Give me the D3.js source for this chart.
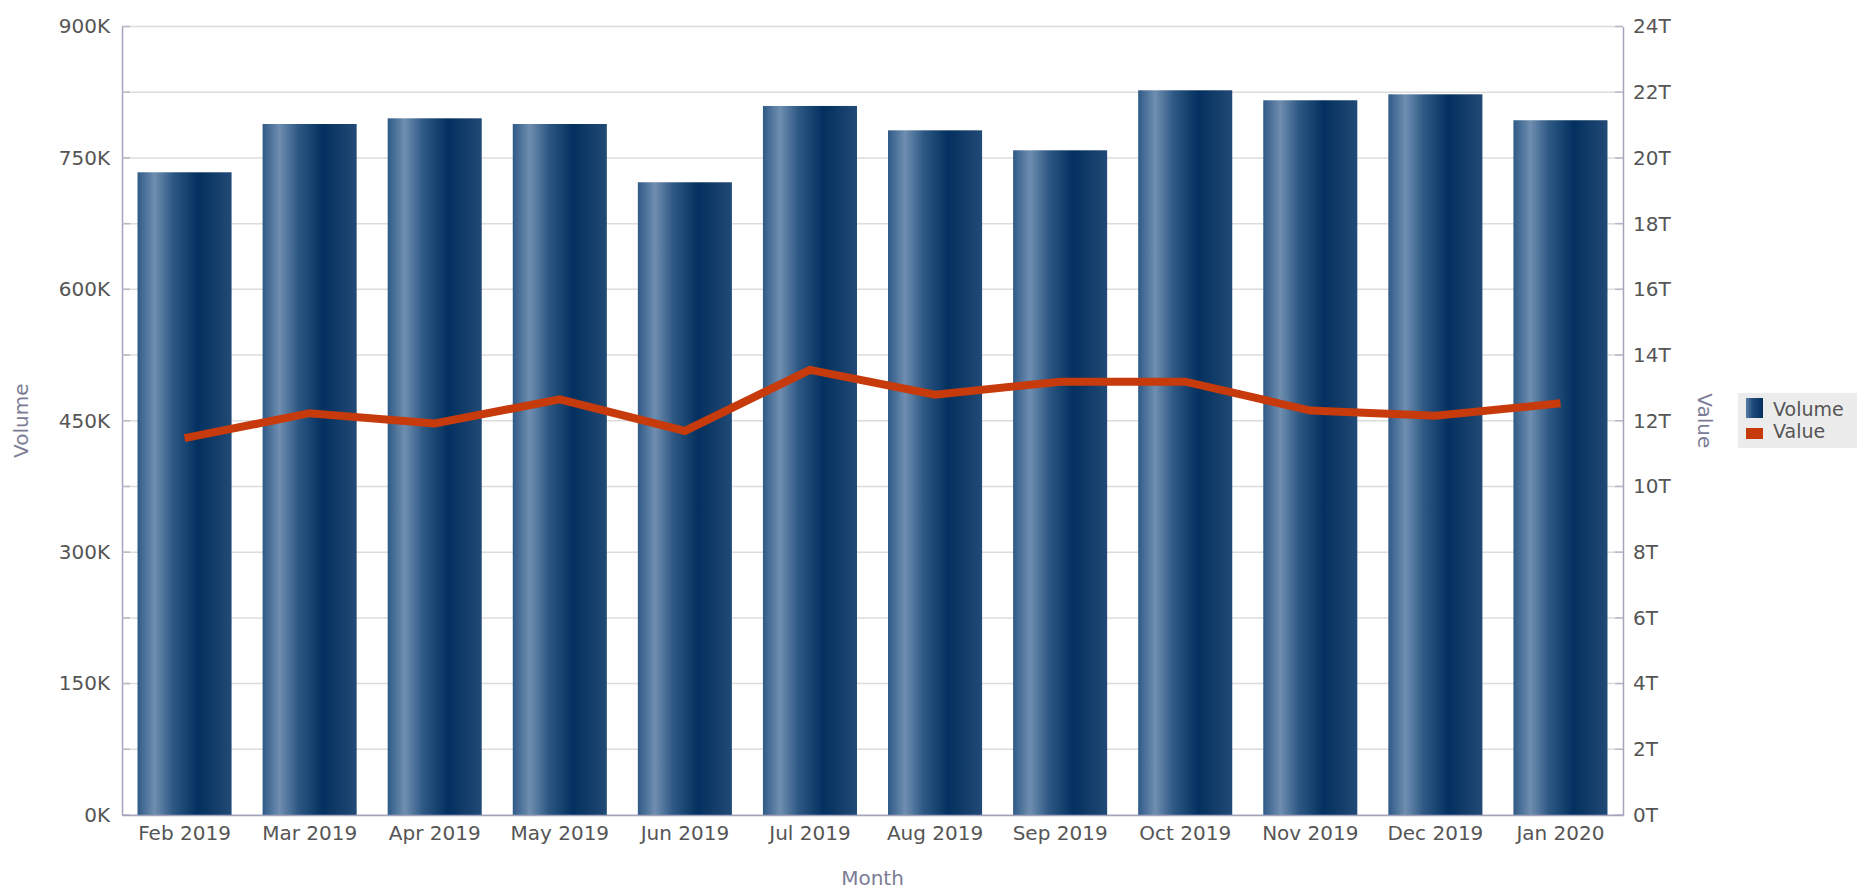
<!DOCTYPE html>
<html>
<head>
<meta charset="utf-8">
<script src="https://cdn.jsdelivr.net/npm/d3@7"></script>
<style>
  html, body { margin: 0; padding: 0; background: #ffffff; }
  svg { display: block; font-family: "DejaVu Sans", sans-serif; }
</style>
</head>
<body>
<svg id="chart" width="1857" height="889"></svg>
<script>
// ---- data ----
const months = ["Feb 2019","Mar 2019","Apr 2019","May 2019","Jun 2019","Jul 2019",
                "Aug 2019","Sep 2019","Oct 2019","Nov 2019","Dec 2019","Jan 2020"];
const volume = [733600, 788700, 795200, 788700, 722200, 809300,
                781500, 758700, 827200, 815800, 822600, 793000];
const valueT = [11.47, 12.23, 11.92, 12.65, 11.69, 13.55,
                12.79, 13.19, 13.19, 12.31, 12.15, 12.53];
const leftTicks = [0, 150000, 300000, 450000, 600000, 750000, 900000];
const rightTicks = [0, 2, 4, 6, 8, 10, 12, 14, 16, 18, 20, 22, 24];
const gridTicks = d3.range(0, 900001, 75000);

// ---- layout ----
const FONT = "DejaVu Sans, sans-serif";
const svg = d3.select("#chart");
const L = 122, R = 1623, T = 26.5, B = 815;

const x = d3.scaleBand().domain(months).range([L, R]).paddingInner(0.248).paddingOuter(0.124);
const y = d3.scaleLinear().domain([0, 900000]).range([B, T]);
const y2 = d3.scaleLinear().domain([0, 24]).range([B, T]);

// gradient
const defs = svg.append("defs");
const grad = defs.append("linearGradient").attr("id", "barGrad")
  .attr("x1", "0%").attr("x2", "100%").attr("y1", "0%").attr("y2", "0%");
[["0%", "#2f5a87"], ["18%", "#6f8eb0"], ["38%", "#2d5884"], ["64%", "#03305f"],
 ["86%", "#163f6c"], ["100%", "#224a77"]].forEach(([o, c]) =>
  grad.append("stop").attr("offset", o).attr("stop-color", c));

// gridlines
svg.append("g").selectAll("line").data(gridTicks).join("line")
  .attr("x1", L).attr("x2", R)
  .attr("y1", d => y(d)).attr("y2", d => y(d))
  .attr("stroke", "#dcdcdc").attr("stroke-width", 1.5);

// bars
svg.append("g").selectAll("rect").data(months).join("rect")
  .attr("x", d => x(d))
  .attr("width", x.bandwidth())
  .attr("y", (d, i) => y(volume[i]))
  .attr("height", (d, i) => B - y(volume[i]))
  .attr("fill", "url(#barGrad)");

// axes
const axisColor = "#a3a3bb";
const labelColor = "#555555";
const titleColor = "#7c7c96";

const leftAxis = svg.append("g").attr("transform", `translate(${L},0)`)
  .call(d3.axisLeft(y).tickValues(leftTicks).tickSize(0).tickPadding(12)
    .tickFormat(d => (d / 1000) + "K"))
  .attr("font-family", FONT).attr("font-size", 20);
leftAxis.select(".domain").attr("stroke", axisColor).attr("stroke-width", 1.5);
leftAxis.selectAll("text").attr("fill", labelColor);

// small inner ticks on left
svg.append("g").selectAll("line").data(gridTicks).join("line")
  .attr("x1", L).attr("x2", L + 8)
  .attr("y1", d => y(d)).attr("y2", d => y(d))
  .attr("stroke", "#b8b8c8").attr("stroke-width", 1.5);

const rightAxis = svg.append("g").attr("transform", `translate(${R},0)`)
  .call(d3.axisRight(y2).tickValues(rightTicks).tickSize(0).tickPadding(10)
    .tickFormat(d => d + "T"))
  .attr("font-family", FONT).attr("font-size", 20);
rightAxis.select(".domain").attr("stroke", axisColor).attr("stroke-width", 1.5);
rightAxis.selectAll("text").attr("fill", labelColor);

svg.append("g").selectAll("line").data(rightTicks).join("line")
  .attr("x1", R - 8).attr("x2", R)
  .attr("y1", d => y2(d)).attr("y2", d => y2(d))
  .attr("stroke", "#b8b8c8").attr("stroke-width", 1.5);

const bottomAxis = svg.append("g").attr("transform", `translate(0,${B})`)
  .call(d3.axisBottom(x).tickSize(0).tickPadding(11))
  .attr("font-family", FONT).attr("font-size", 20);
bottomAxis.select(".domain").attr("stroke", axisColor).attr("stroke-width", 1.5);
bottomAxis.selectAll("text").attr("fill", labelColor);

// line
const line = d3.line()
  .x((d, i) => x(months[i]) + x.bandwidth() / 2)
  .y(d => y2(d));
svg.append("path").datum(valueT)
  .attr("d", line)
  .attr("fill", "none")
  .attr("stroke", "#c63a0c")
  .attr("stroke-width", 8)
  .attr("stroke-linejoin", "miter");

// axis titles
svg.append("text").attr("x", (L + R) / 2).attr("y", 885)
  .attr("text-anchor", "middle").attr("fill", titleColor).attr("font-size", 20)
  .attr("font-family", FONT).text("Month");
svg.append("text").attr("transform", `translate(28,${(T + B) / 2}) rotate(-90)`)
  .attr("text-anchor", "middle").attr("fill", titleColor).attr("font-size", 20)
  .attr("font-family", FONT).text("Volume");
svg.append("text").attr("transform", `translate(1698,${(T + B) / 2}) rotate(90)`)
  .attr("text-anchor", "middle").attr("fill", titleColor).attr("font-size", 20)
  .attr("font-family", FONT).text("Value");

// legend
const lg = svg.append("g").attr("font-family", FONT);
lg.append("rect").attr("x", 1738).attr("y", 393).attr("width", 119).attr("height", 55)
  .attr("fill", "#ececec");
const lgrad = defs.append("linearGradient").attr("id", "legGrad")
  .attr("x1", "0%").attr("x2", "100%");
[["0%", "#5a7ea6"], ["40%", "#1e4a7a"], ["100%", "#062f5e"]].forEach(([o, c]) =>
  lgrad.append("stop").attr("offset", o).attr("stop-color", c));
lg.append("rect").attr("x", 1746).attr("y", 398).attr("width", 17).attr("height", 20)
  .attr("fill", "url(#legGrad)");
lg.append("rect").attr("x", 1746).attr("y", 428).attr("width", 17).attr("height", 11)
  .attr("fill", "#c63a0c");
lg.append("text").attr("x", 1773).attr("y", 416).attr("fill", labelColor)
  .attr("font-size", 19).text("Volume");
lg.append("text").attr("x", 1773).attr("y", 438).attr("fill", labelColor)
  .attr("font-size", 19).text("Value");
</script>
</body>
</html>
